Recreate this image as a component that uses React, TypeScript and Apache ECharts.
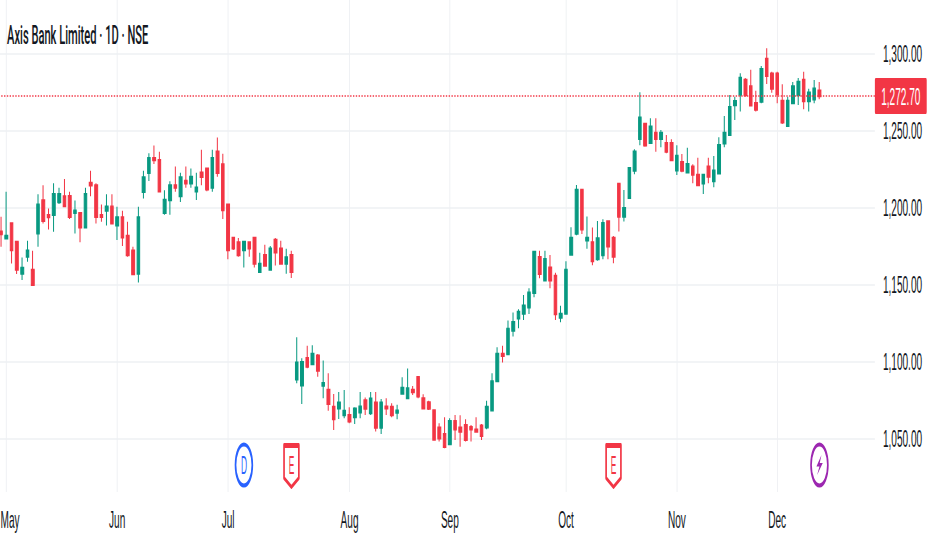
import React, { useEffect, useRef } from "react";
import * as echarts from "echarts";

const chartTitle = "Axis Bank Limited · 1D · NSE";
const yTicks = [1050, 1100, 1150, 1200, 1250, 1300];
const lastPrice = 1272.7;
const monthLabels = ["May", "Jun", "Jul", "Aug", "Sep", "Oct", "Nov", "Dec"];
const monthStarts = [1, 22, 43, 66, 85, 107, 128, 147];
const slotCount = 166;
const eventMarks = [
  { kind: "D", slot: 46 },
  { kind: "E", slot: 55 },
  { kind: "E", slot: 116 },
  { kind: "S", slot: 155 },
];

// [open, close, low, high]
const mayJulCandles = [
  [1184.6,1183.1,1174.8,1194.3],[1180.3,1181.8,1179.8,1210.6],[1190,1172.7,1164,1190.5],[1177.9,1160.1,1157.1,1178.4],
  [1157.5,1161,1153.2,1167.9],[1168.4,1172.3,1165.1,1178.7],[1159.7,1150.2,1149.5,1172.3],[1183.5,1202.1,1174.8,1209],
  [1204.9,1191.7,1190,1214.7],[1195.4,1194.1,1186.1,1199.7],[1195.6,1209,1184.6,1216],[1203.9,1209,1202.6,1213.2],
  [1207.5,1201.3,1200.8,1218.8],[1207.7,1194.3,1192.8,1210.6],[1196.9,1198.2,1183.5,1204.9],[1196.7,1187.4,1177.7,1197.1],
  [1187.4,1209,1187,1213.2],[1216.2,1214.7,1207.7,1224.2],[1214.7,1194.3,1190,1216],[1195.4,1194.3,1191.1,1202.3],
  [1198.4,1200.8,1188.7,1209],[1200.8,1190,1189.6,1209],[1188.7,1193.9,1179.2,1200.8],[1193.9,1180.9,1175.3,1198.2],
  [1181.8,1169.4,1168.4,1191.1],[1172.3,1157.1,1156.9,1174.8],[1157.5,1193.9,1151.7,1200.8],[1210.6,1219.9,1206.2,1224.2],
  [1222.9,1232.4,1217.5,1235.5],[1232.4,1231.1,1228.5,1240.6],[1231.1,1210.8,1210.6,1236.5],[1196.9,1205.2,1195.6,1211.6],
  [1205.2,1214.7,1195.6,1217.3],[1214.7,1213.2,1210.6,1227],[1207.7,1219.9,1203.9,1222.9],[1217.5,1216,1213.2,1227],
  [1216,1220.1,1213.2,1225.7],[1210.8,1213.2,1205.2,1222.9],[1222.9,1220.3,1214.7,1237.8],[1225.5,1212.1,1210.8,1225.8],
  [1213.2,1232.4,1210.6,1237.8],[1236.5,1222.9,1220.3,1245.8],[1228.3,1198.7,1192.8,1235.2],[1202.1,1172.7,1166.8,1202.5],
  [1180.5,1173.8,1172.7,1181.3],[1177.7,1169.4,1168.4,1180.5],[1172.7,1177.9,1161.4,1178.7],[1177.7,1173.8,1168.4,1178],
  [1180.5,1164,1161.4,1180.9],[1158.6,1163.6,1158.2,1171],[1169.4,1162.7,1162.3,1176.1],[1160.1,1173.6,1159.8,1175.3],
  [1179.2,1171.2,1162.7,1180.5],[1173.6,1164,1163.2,1178.7],[1164,1167.9,1157.3,1173.6],[1169.4,1158.6,1154.5,1172.3],
];
const julSepCandles = [
  [1088.8,1099.6,1086.2,1116],[1084.9,1099.8,1072.8,1102.4],[1102.4,1097,1095.9,1110.6],[1098.7,1105.2,1098.1,1110.8],
  [1104.1,1094.4,1090.5,1105.2],[1084.7,1086.2,1076.4,1100.9],[1081.8,1072.8,1068.4,1092.7],[1070.8,1063,1055.9,1079.2],
  [1069.9,1073.6,1063,1080.5],[1065.6,1068.2,1063.4,1081.8],[1065.4,1061.5,1060.2,1070.6],[1064.3,1069.7,1059.8,1070.6],
  [1067.3,1071,1063.4,1080.5],[1075.1,1069.7,1065.6,1076.9],[1066.9,1076.2,1065.6,1080.5],[1073.6,1057.4,1054.8,1080.5],
  [1057.4,1073.6,1053.3,1076],[1071,1069.9,1065.6,1076.4],[1070.8,1065.6,1064.1,1073.2],[1067.1,1068.4,1062.8,1072.3],
  [1079.5,1083.1,1079.2,1090.1],[1076.6,1082.9,1076.4,1095.7],[1081.8,1080.5,1078.6,1084.4],[1090.1,1077.7,1076.4,1090.5],
  [1076.4,1069.9,1069.5,1079],[1073.8,1069.7,1068.8,1074.9],[1068.6,1049.6,1049.2,1069.3],[1057.4,1050.5,1048.3,1060.2],
  [1053.1,1045,1044,1064.1],[1046.8,1061.5,1046.1,1063.4],[1061.5,1056.3,1049.4,1065.6],[1057.4,1054.8,1045,1065.4],
  [1058.9,1049.4,1048.3,1062.8],[1057.6,1056.3,1048.3,1059.1],[1056.1,1054.8,1054.3,1064.1],[1058.7,1052,1049.4,1059.8],
  [1057.6,1070.8,1056.3,1074.9],[1068.6,1087.3,1068.4,1092.7],[1087.7,1105.2,1087.3,1109.5],[1105.2,1104.1,1099.6,1110.6],
];
const sepDecCandles = [
  [1105.2,1121.5,1104.6,1126.9],[1120.4,1125.8,1116.5,1132.1],[1128.4,1132.5,1121.9,1134.2],[1131.4,1136.6,1127.3,1143.5],
  [1135.5,1145,1131.2,1147.9],[1145,1171.5,1142,1172.3],[1168,1157.2,1154.4,1172.3],[1153.1,1166.7,1152.9,1172.3],
  [1161.3,1153.1,1147.9,1169.5],[1155.9,1131.2,1127.3,1158],[1128.8,1131.2,1125.8,1136.6],[1131.4,1159.8,1131,1165.4],
  [1169.7,1180.5,1169.3,1187.5],[1183.4,1211.7,1182.3,1215],[1211.7,1186.2,1183.1,1212.1],[1179,1180.5,1173.6,1194.4],
  [1177.7,1165.6,1162.8,1187.3],[1166.9,1180.3,1165.8,1191.6],[1169.5,1190.1,1166.7,1192.7],[1191.2,1175.1,1166.7,1191.8],
  [1180.5,1168.4,1164.1,1181.8],[1215.6,1194.4,1184.7,1216],[1194.4,1199.8,1191.2,1211.7],[1206.7,1225.8,1206.2,1226.5],
  [1224.3,1236.6,1221.9,1238.1],[1245,1258.7,1240.7,1275.1],[1254.6,1240.7,1239.8,1255.4],[1242.4,1252.8,1242,1258.2],
  [1248.7,1245,1236.6,1258.2],[1245,1248.7,1239.4,1250.7],[1242,1236.6,1235.5,1247.4],[1242,1231.2,1230.8,1244.6],
  [1224.5,1233.8,1221.4,1240.7],[1229.7,1224.3,1223.2,1235.1],[1223.2,1228.4,1223,1239.2],[1226.8,1221.7,1216,1228.4],
  [1221.4,1214.9,1214.7,1232.7],[1216,1221.4,1209.1,1221.9],[1226.8,1220.4,1216,1232.7],[1217.5,1224.3,1213.4,1233.8],
  [1222.5,1240.7,1221.9,1245.9],[1242,1248.7,1239.4,1259.7],[1247.6,1265.4,1247.4,1273.4],[1266.9,1269.3,1257.2,1272.3],
  [1273.6,1284.4,1262.6,1287.5],[1283.1,1273.4,1272.3,1284.4],[1279,1266.7,1266.2,1289.8],[1268,1263.9,1262.6,1276.2],
  [1269.1,1290.1,1268,1292.2],[1296.8,1285.9,1280.5,1303.7],[1287.2,1277.5,1274.9,1288.5],[1287.2,1274,1268,1288.5],
  [1269.5,1255.6,1254.6,1280.3],[1253.3,1269.5,1252.8,1272.3],[1268.2,1279,1268,1281.8],[1273.4,1281.8,1266.9,1284.4],
  [1283.1,1269.5,1264.1,1288.5],[1269.5,1274.9,1262.6,1277.5],[1270.6,1277.5,1268,1283.1],[1276.2,1272.7,1270.6,1281.8],
];

const UP = "#089981";
const DOWN = "#f23645";
const BLUE = "#2962ff";
const PURPLE = "#9c27b0";
const GRID = "#eef0f3";
const TEXT = "#131722";
const FONT = "'Liberation Sans', sans-serif";
// The reference is squeezed sideways: the whole chart is drawn wider, then narrowed by this factor.
const SQUEEZE = 0.42;
const sx = (px: number) => px / SQUEEZE;
const BAND = 5.28;
const PANE_BOTTOM = 492;

const money = (v: number) =>
  v.toLocaleString("en-US", { minimumFractionDigits: 2, maximumFractionDigits: 2 });

function eventGraphic(kind: string, x: number) {
  const cy = 465;
  if (kind === "E") {
    const w = sx(7.4);
    return {
      type: "group", x, y: 0, silent: true,
      children: [
        { type: "polygon", shape: { points: [[-w, 445], [w, 445], [w, 478], [0, 487], [-w, 478]] },
          style: { fill: "#fff", stroke: DOWN, lineWidth: 4, lineJoin: "round" } },
        { type: "line", shape: { x1: -w, y1: 446.5, x2: w, y2: 446.5 }, style: { stroke: DOWN, lineWidth: 3 } },
        { type: "text", x: 0, y: cy, scaleX: 0.8,
          style: { text: "E", fill: DOWN, font: `25px ${FONT}`, align: "center", verticalAlign: "middle" } },
      ],
    };
  }
  const stroke = kind === "D" ? BLUE : PURPLE;
  const inner =
    kind === "D"
      ? { type: "text", x: 0, y: cy, scaleX: 0.8,
          style: { text: "D", fill: BLUE, font: `25px ${FONT}`, align: "center", verticalAlign: "middle" } }
      : { type: "polygon",
          shape: { points: [[sx(2), cy - 10], [sx(-3), cy + 1.5], [0, cy + 1.5], [sx(-2.3), cy + 10], [sx(3.3), cy - 2], [sx(0.3), cy - 2]] },
          style: { fill: PURPLE } };
  return {
    type: "group", x, y: 0, silent: true,
    children: [
      { type: "ellipse", shape: { cx: 0, cy, rx: sx(8.4), ry: 20.5 }, style: { fill: "#fff", stroke, lineWidth: 4 } },
      inner,
    ],
  };
}

export default function App() {
  const ref = useRef<HTMLDivElement>(null);
  useEffect(() => {
    const chart = echarts.init(ref.current!, null, { renderer: "svg" });
    const categories = Array.from({ length: slotCount }, (_, i) => {
      const m = monthStarts.indexOf(i);
      return m >= 0 ? monthLabels[m] : "";
    });
    const candles = [...mayJulCandles, ...julSepCandles, ...sepDecCandles];
    const isMonth = (_: number, v: string) => v !== "";
    chart.setOption({
      animation: false,
      backgroundColor: "#ffffff",
      grid: { left: sx(-1.6), top: 0, width: sx(BAND * slotCount), height: PANE_BOTTOM, outerBoundsMode: "none" },
      xAxis: {
        type: "category",
        data: categories,
        boundaryGap: true,
        axisLine: { show: false },
        axisTick: { show: false, alignWithLabel: true, interval: isMonth },
        axisLabel: {
          interval: isMonth,
          color: TEXT,
          fontFamily: FONT,
          fontSize: 24,
          margin: 16,
          formatter: (v: string) => (v === monthLabels[0] ? `{first|${v}}` : v),
          rich: { first: { padding: [0, 0, 0, 18], fontSize: 24, fontFamily: FONT, color: TEXT } },
        },
        splitLine: { show: true, interval: isMonth, alignWithLabel: true, lineStyle: { color: GRID, width: 2.2 } },
      },
      yAxis: {
        type: "value",
        position: "right",
        min: 1300 - (PANE_BOTTOM - 54) / 1.54,
        max: 1300 + 54 / 1.54,
        axisLine: { show: false },
        axisTick: { show: false, customValues: yTicks },
        axisLabel: {
          customValues: yTicks,
          color: TEXT,
          fontFamily: FONT,
          fontSize: 24,
          margin: sx(8),
          formatter: (v: number) => money(v),
        },
        splitLine: { show: true, lineStyle: { color: GRID, width: 1.6 } },
      },
      title: {
        text: chartTitle,
        left: sx(5),
        top: 16,
        textStyle: { fontFamily: "Roboto, sans-serif", fontSize: 26.5, fontWeight: 500, color: TEXT },
      },
      series: [
        {
          type: "candlestick",
          data: candles,
          barWidth: 7,
          itemStyle: { color: UP, color0: DOWN, borderColor: UP, borderColor0: DOWN, borderWidth: 2.4 },
          markLine: {
            silent: true,
            symbol: ["none", "none"],
            data: [{ yAxis: lastPrice }],
            lineStyle: { color: DOWN, type: [3.3, 3.4], width: 1.6 },
            label: {
              position: "end",
              distance: 0,
              formatter: () => money(lastPrice),
              color: "#fff",
              backgroundColor: DOWN,
              fontFamily: FONT,
              fontSize: 24,
              fontWeight: 500,
              padding: [6, 15, 6, 15],
              borderRadius: 2,
            },
          },
        },
      ],
    });
    chart.setOption({
      graphic: eventMarks.map((m) =>
        eventGraphic(m.kind, chart.convertToPixel({ xAxisIndex: 0 }, m.slot) as number)
      ),
    });
    return () => chart.dispose();
  }, []);
  return (
    <div style={{ position: "absolute", left: 0, top: 0, width: 932, height: 550, overflow: "hidden", background: "#fff" }}>
      <div
        ref={ref}
        style={{ width: 932 / SQUEEZE, height: 550, transform: `scaleX(${SQUEEZE})`, transformOrigin: "0 0" }}
      />
    </div>
  );
}
